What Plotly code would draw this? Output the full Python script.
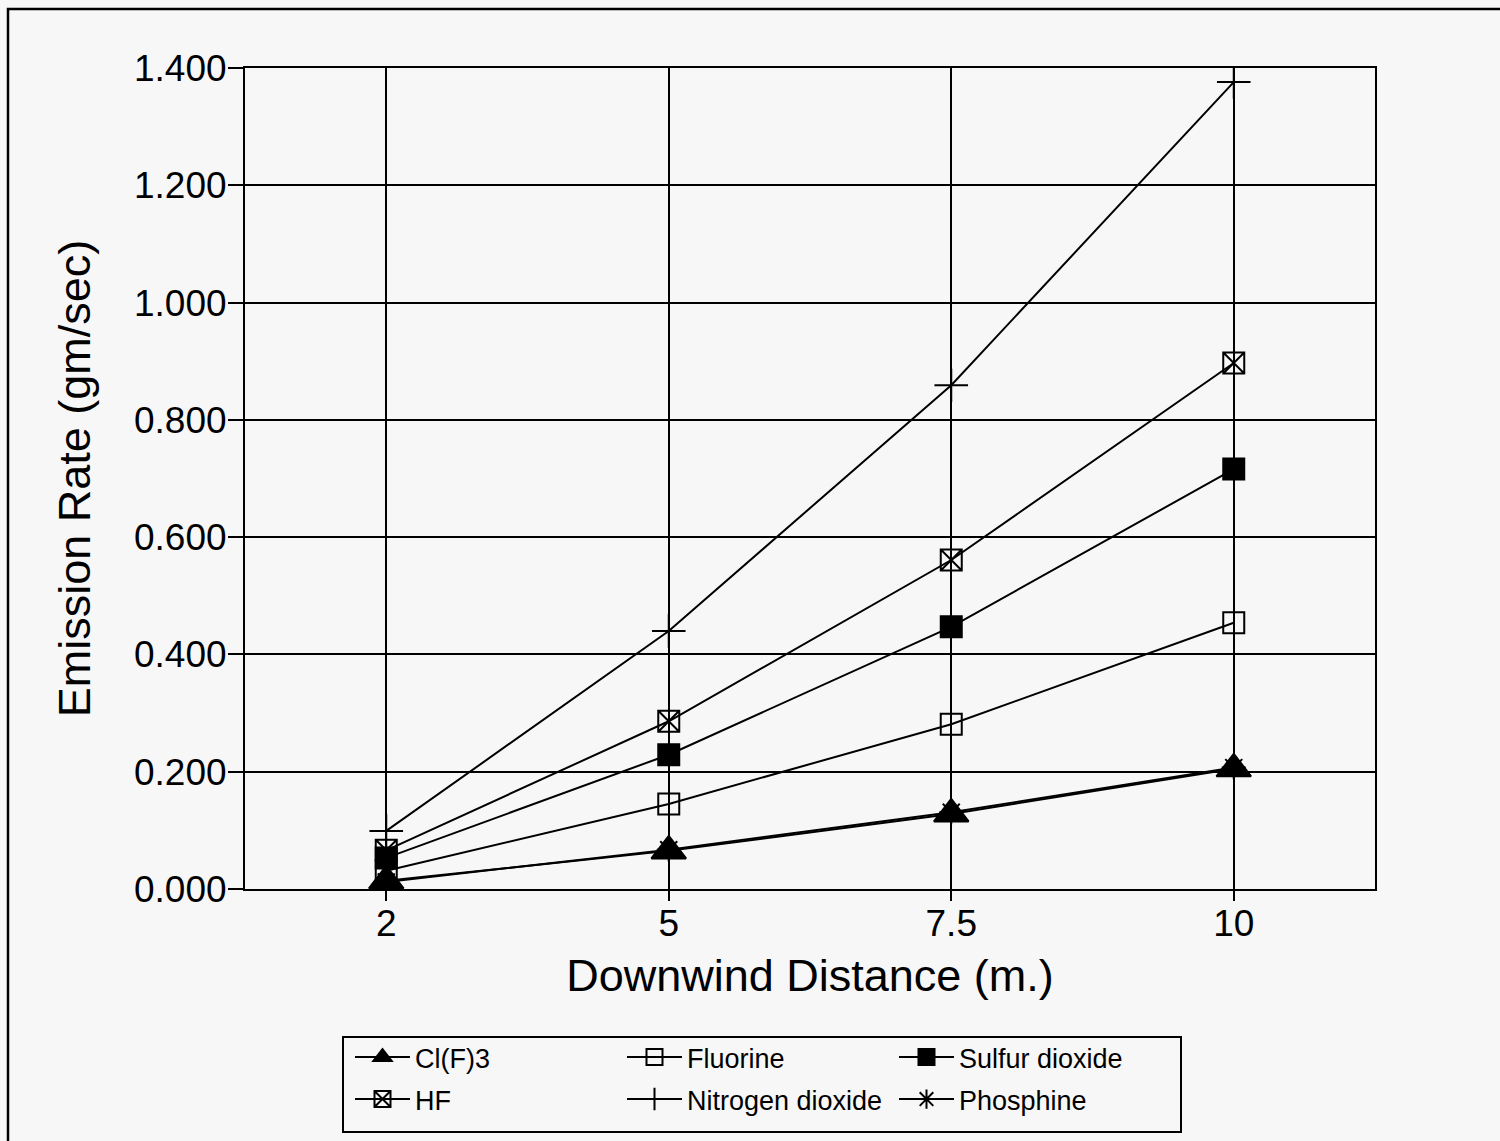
import plotly.graph_objects as go

distances = ["2", "5", "7.5", "10"]
clf3 = [0.014, 0.065, 0.128, 0.205]
fluorine = [0.031, 0.145, 0.281, 0.454]
sulfur_dioxide = [0.053, 0.229, 0.447, 0.716]
hf = [0.066, 0.286, 0.561, 0.897]
nitrogen_dioxide = [0.099, 0.440, 0.859, 1.376]
phosphine = [0.012, 0.067, 0.131, 0.207]

series = [
    ("Cl(F)3", clf3, "triangle-up", 30, "legend"),
    ("Fluorine", fluorine, "square-open", 21, "legend"),
    ("Sulfur dioxide", sulfur_dioxide, "square", 21, "legend"),
    ("HF", hf, "square-x-open", 21, "legend2"),
    ("Nitrogen dioxide", nitrogen_dioxide, "cross-thin-open", 24, "legend2"),
    ("Phosphine", phosphine, "asterisk-open", 20, "legend2"),
]

BG = "#f7f7f7"
fig = go.Figure()
for name, vals, sym, size, leg in series:
    fig.add_trace(go.Scatter(
        x=distances, y=vals, name=name, mode="lines+markers",
        line=dict(color="black", width=2),
        marker=dict(symbol=sym, size=size, color="black",
                    line=dict(color="black", width=2)),
        legend=leg,
    ))

W, H = 1500, 1141
L, R, T, B = 245, 125, 68, 252
pw, ph = W - L - R, H - T - B

def px(x):
    return (x - L) / pw

def py(y):
    return (H - B - y) / ph

font = "Liberation Sans, Arial, Helvetica, sans-serif"
fig.update_layout(
    width=W, height=H,
    margin=dict(l=L, r=R, t=T, b=B, pad=0),
    paper_bgcolor=BG, plot_bgcolor=BG,
    font=dict(family=font, color="black", size=37),
    xaxis=dict(
        type="category", range=[-0.5, 3.5],
        showgrid=True, gridcolor="black", gridwidth=2,
        showline=True, linecolor="black", linewidth=2, mirror=True,
        ticks="outside", ticklen=10, tickwidth=2, tickcolor="black",
        tickfont=dict(size=37), ticklabelstandoff=-9,
        title=dict(text="Downwind Distance (m.)", font=dict(size=45), standoff=16),
        zeroline=False,
    ),
    yaxis=dict(
        range=[0, 1.4], dtick=0.2, tickformat=".3f",
        showgrid=True, gridcolor="black", gridwidth=2,
        showline=True, linecolor="black", linewidth=2, mirror=True,
        ticks="outside", ticklen=15, tickwidth=2, tickcolor="black",
        tickfont=dict(size=37), ticklabelstandoff=-6,
        title=dict(text="Emission Rate (gm/sec)", font=dict(size=45), standoff=29),
        zeroline=False,
    ),
    legend=dict(
        orientation="h", x=px(350), y=py(1033), xanchor="left", yanchor="top",
        bgcolor="rgba(0,0,0,0)", borderwidth=0, font=dict(size=27),
        entrywidth=202, itemwidth=55, traceorder="normal",
    ),
    legend2=dict(
        orientation="h", x=px(350), y=py(1075), xanchor="left", yanchor="top",
        bgcolor="rgba(0,0,0,0)", borderwidth=0, font=dict(size=27),
        entrywidth=202, itemwidth=55, traceorder="normal",
    ),
    showlegend=True,
    shapes=[
        dict(type="rect", xref="paper", yref="paper",
             x0=px(343), x1=px(1181), y0=py(1132), y1=py(1037),
             line=dict(color="black", width=2)),
        dict(type="path", xref="paper", yref="paper",
             path=f"M {px(8)} {py(1160)} L {px(8)} {py(9)} L {px(1510)} {py(9)}",
             line=dict(color="black", width=2.5)),
    ],
)

fig.write_html("out.html")
